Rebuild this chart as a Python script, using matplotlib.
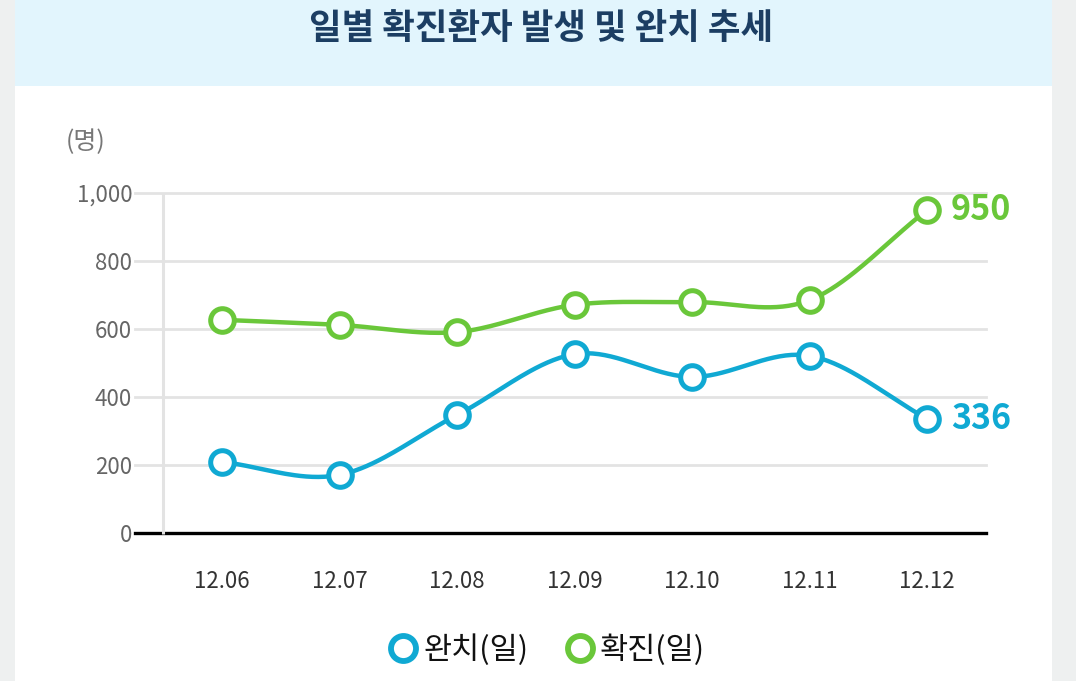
import numpy as np
import matplotlib
matplotlib.use('Agg')
import matplotlib.pyplot as plt
from matplotlib.patches import Rectangle
from matplotlib.lines import Line2D

plt.rcParams['font.family'] = ['Noto Sans CJK KR', 'DejaVu Sans']

# 데이터
dates = ['12.06', '12.07', '12.08', '12.09', '12.10', '12.11', '12.12']
confirmed = [627, 612, 591, 671, 679, 685, 950]   # 확진(일)
recovered = [209, 171, 347, 526, 459, 521, 336]   # 완치(일)
yticks = [0, 200, 400, 600, 800, 1000]
ytick_labels = ['0', '200', '400', '600', '800', '1,000']

title = '일별 확진환자 발생 및 완치 추세'
green = '#6ac73a'
blue = '#10a9d3'


def smooth(xs, ys, n=40):
    # catmull-rom 스플라인
    xs = np.asarray(xs, float)
    ys = np.asarray(ys, float)
    px = np.concatenate([[2 * xs[0] - xs[1]], xs, [2 * xs[-1] - xs[-2]]])
    py = np.concatenate([[2 * ys[0] - ys[1]], ys, [2 * ys[-1] - ys[-2]]])
    ox, oy = [], []
    t = np.linspace(0, 1, n)
    for i in range(1, len(px) - 2):
        for p, out in ((px, ox), (py, oy)):
            p0, p1, p2, p3 = p[i - 1], p[i], p[i + 1], p[i + 2]
            out.extend(0.5 * ((2 * p1) + (-p0 + p2) * t +
                              (2 * p0 - 5 * p1 + 4 * p2 - p3) * t ** 2 +
                              (-p0 + 3 * p1 - 3 * p2 + p3) * t ** 3))
    return np.array(ox), np.array(oy)


W, H = 1076, 681
fig = plt.figure(figsize=(W / 100, H / 100), dpi=100)
fig.patch.set_facecolor('#eef0f0')

# 패널 배경
fig.patches.append(Rectangle((15 / W, 0), 1037 / W, 1 - 86 / H, transform=fig.transFigure,
                             facecolor='white', edgecolor='none', zorder=-2))
fig.patches.append(Rectangle((15 / W, 1 - 86 / H), 1037 / W, 86 / H, transform=fig.transFigure,
                             facecolor='#e2f5fd', edgecolor='none', zorder=-2))
fig.text(541 / W, 1 - 29 / H, title, ha='center', va='center', fontsize=25.5,
         fontweight='heavy', color='#1c3e63')

ax = fig.add_axes([135 / W, 1 - 533 / H, (986 - 135) / W, (533 - 193) / H])
ax.set_facecolor('none')
x = np.arange(len(dates))
ax.set_xlim(-0.74, 6.5)
ax.set_ylim(0, 1000)

for v in yticks[1:]:
    ax.axhline(v, color='#e3e3e3', lw=2, zorder=1, clip_on=False)
ax.axhline(0, color='black', lw=2.4, zorder=2, clip_on=False)
ax.plot([-0.5, -0.5], [-4, 1000], color='#e3e3e3', lw=2.2, zorder=3,
        solid_capstyle='butt', clip_on=False)

for vals, c in ((confirmed, green), (recovered, blue)):
    sx, sy = smooth(x, vals)
    ax.plot(sx, sy, color=c, lw=3.2, zorder=4, solid_capstyle='round', clip_on=False)
    ax.plot(x, vals, 'o', ms=17, mfc='white', mec=c, mew=3.6, zorder=5, ls='none', clip_on=False)
    ax.annotate(f'{vals[-1]}', (x[-1], vals[-1]), xytext=(17, 0), textcoords='offset points',
                ha='left', va='center', fontsize=24.5, color=c, fontweight='bold')

for s in ax.spines.values():
    s.set_visible(False)
ax.set_yticks(yticks)
ax.set_yticklabels(ytick_labels)
ax.set_xticks(x)
ax.set_xticklabels(dates)
ax.tick_params(axis='y', length=0, pad=2, labelsize=16, labelcolor='#666666')
ax.tick_params(axis='x', length=0, pad=27, labelsize=16, labelcolor='#333333')

fig.text(86 / W, 1 - 142 / H, '(명)', ha='center', va='center', fontsize=18, color='#777777')

handles = [Line2D([], [], ls='none', marker='o', ms=18, mfc='white', mec=blue, mew=4.2),
           Line2D([], [], ls='none', marker='o', ms=18, mfc='white', mec=green, mew=4.2)]
fig.legend(handles, ['완치(일)', '확진(일)'], loc='center', bbox_to_anchor=(545 / W, 1 - 650 / H),
           ncol=2, frameon=False, fontsize=22, handletextpad=0.05, columnspacing=1.1,
           handlelength=1.2, labelcolor='#111111')

fig.savefig('out.png', dpi=100, facecolor=fig.get_facecolor())
